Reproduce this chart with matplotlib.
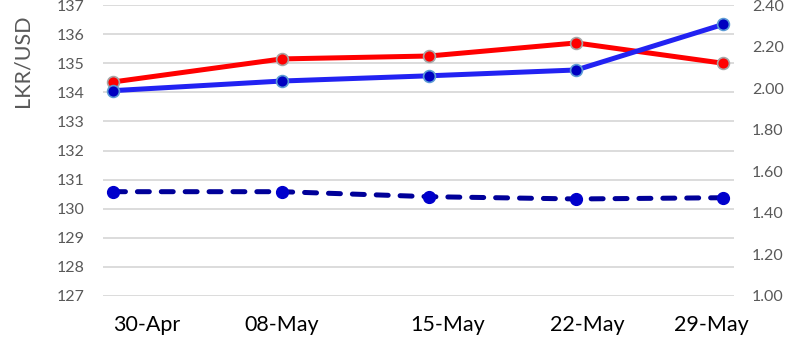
import matplotlib
matplotlib.use("Agg")
import matplotlib.pyplot as plt
import matplotlib.dates as mdates
import matplotlib.transforms as mtransforms
import pandas as pd

plt.rcParams['font.family'] = ['Lato', 'DejaVu Sans']
plt.rcParams['lines.scale_dashes'] = False

# weekly readings
dates = ['2015-04-30', '2015-05-08', '2015-05-15', '2015-05-22', '2015-05-29']
rate_red = [134.36, 135.15, 135.25, 135.70, 135.00]
rate_blue = [134.06, 134.39, 134.57, 134.77, 136.34]
ratio_dashed = [1.502, 1.502, 1.478, 1.467, 1.473]

left_ticks = list(range(127, 138))
right_ticks = [1.00, 1.20, 1.40, 1.60, 1.80, 2.00, 2.20, 2.40]

x = pd.to_datetime(dates)

fig = plt.figure(figsize=(7.94, 3.41), dpi=100)
ax = fig.add_axes([0.1297, 0.132, 0.7947, 0.853])
ax2 = ax.twinx()

ax.plot(x, rate_red, color='#FF0000', lw=3.6, marker='o', ms=8.5,
        mfc='#FF0000', mec='#A6A6A6', mew=1.2, solid_capstyle='round', zorder=3)
ax.plot(x, rate_blue, color='#2222F2', lw=3.6, marker='o', ms=8.5,
        mfc='#0000C0', mec='#5B9BD5', mew=1.2, solid_capstyle='round', zorder=4)
ax2.plot(x, ratio_dashed, color='#000099', lw=3.6, dashes=(8.6, 8.6),
         dash_capstyle='round', marker='o', ms=8.5, mfc='#0000CC', mec='#0000CC',
         zorder=3)

half_day = pd.Timedelta(hours=12)
ax.set_xlim(x[0] - half_day, x[-1] + half_day)
ax.set_ylim(127, 137)
ax2.set_ylim(1.0, 2.4)
ax.set_yticks(left_ticks)
ax2.set_yticks(right_ticks)
ax2.set_yticklabels([f'{v:.2f}' for v in right_ticks])

ax.set_xticks(x)
ax.xaxis.set_major_formatter(mdates.DateFormatter('%d-%b'))

ax.grid(axis='y', color='#D9D9D9', lw=1.3)
ax.set_axisbelow(True)
for a in (ax, ax2):
    for s in a.spines.values():
        s.set_visible(False)
    a.tick_params(length=0)

ax.tick_params(axis='y', labelsize=11.5, labelcolor='#595959', pad=13)
ax2.tick_params(axis='y', labelsize=11.5, labelcolor='#595959', pad=13)
ax.tick_params(axis='x', labelsize=15.5, labelcolor='#000000', pad=14)

# nudge the date labels sideways
label_shift = [33, 0, 19, 11, -12]
for lab, dx in zip(ax.get_xticklabels(), label_shift):
    lab.set_transform(lab.get_transform() +
                      mtransforms.ScaledTranslation(dx / 100, 0, fig.dpi_scale_trans))

fig.text(23 / 794, 1 - 61 / 341, 'LKR/USD', rotation=90, ha='center', va='center',
         fontsize=15.5, color='#595959')

fig.savefig('out.png', dpi=100)
